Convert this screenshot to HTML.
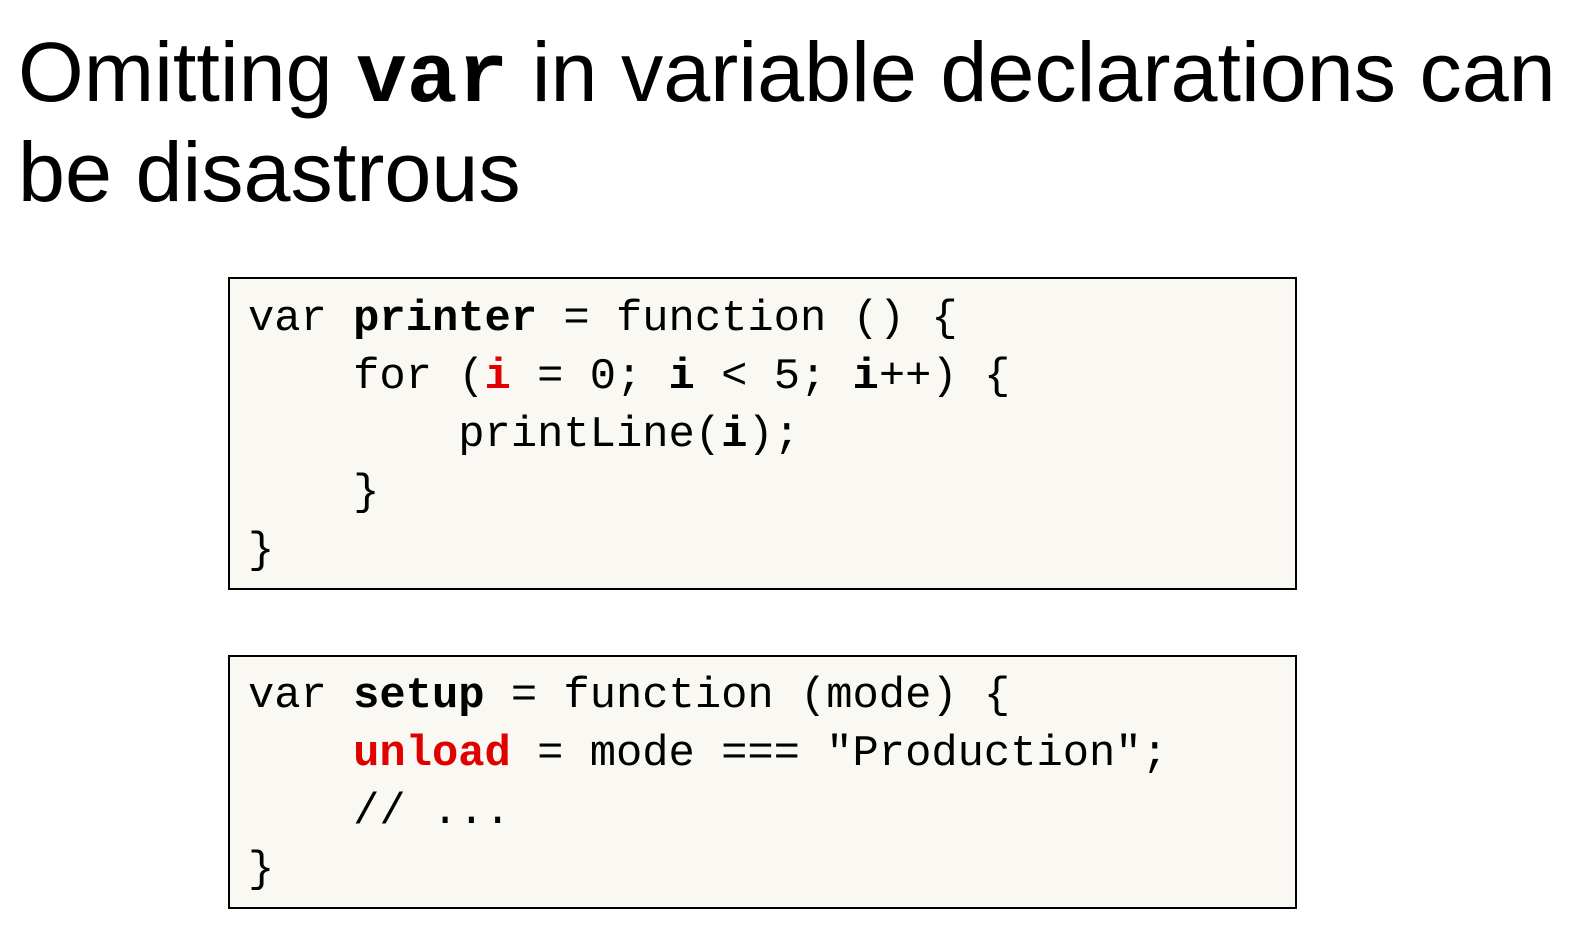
<!DOCTYPE html>
<html><head><meta charset="utf-8"><style>
body{margin:0;width:1573px;height:934px;background:#fff;position:relative;overflow:hidden;font-family:"Liberation Sans",sans-serif;}
.t{position:absolute;left:18px;font-size:84.5px;line-height:1;color:#000;white-space:nowrap;}
.t b{font-family:"Liberation Mono",monospace;font-weight:bold;}
.box{position:absolute;left:228px;width:1065px;border:2px solid #000;background:#f9f8f3;}
.l{position:absolute;left:248px;font-family:"Liberation Mono","DejaVu Sans Mono",monospace;font-size:43.8px;line-height:1;white-space:pre;color:#000;}
.r{color:#e00000;font-weight:bold}
</style></head><body>
<div class="t" style="top:30px">Omitting <b>var</b> in variable declarations can</div>
<div class="t" style="top:130px">be disastrous</div>
<div class="box" style="top:277px;height:309px"></div>
<div class="box" style="top:655px;height:250px"></div>
<div class="l" style="top:298px">var <b>printer</b> = function () {</div>
<div class="l" style="top:356px">    for (<span class="r">i</span> = 0; <b>i</b> &lt; 5; <b>i</b>++) {</div>
<div class="l" style="top:414px">        printLine(<b>i</b>);</div>
<div class="l" style="top:472px">    }</div>
<div class="l" style="top:530px">}</div>
<div class="l" style="top:675px">var <b>setup</b> = function (mode) {</div>
<div class="l" style="top:733px">    <span class="r">unload</span> = mode === "Production";</div>
<div class="l" style="top:791px">    // ...</div>
<div class="l" style="top:849px">}</div>
</body></html>
